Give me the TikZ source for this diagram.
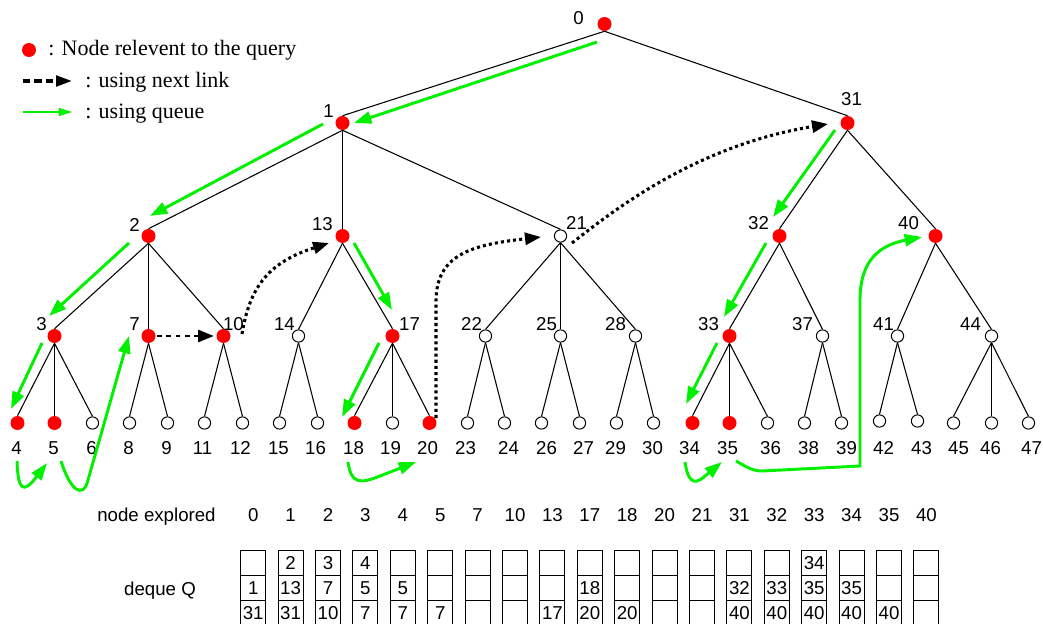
\documentclass[tikz,border=0pt]{standalone}
\usepackage{fontspec}
\setmainfont{Liberation Serif}
\newfontfamily\arialfont{Liberation Sans}
\usetikzlibrary{arrows.meta}
\definecolor{qred}{RGB}{255,0,0}
\definecolor{qgreen}{RGB}{0,240,0}

\begin{document}
\begin{tikzpicture}[x=0.75pt,y=-0.75pt,
  hit/.style={circle,fill=qred,inner sep=0pt,minimum size=10.5pt},
  miss/.style={circle,draw,fill=white,line width=0.75pt,inner sep=0pt,minimum size=9.2pt},
  num/.style={font=\arialfont\fontsize{14}{16}\selectfont,inner sep=0pt},
  legendtext/.style={font=\fontsize{16.5}{18}\selectfont,inner sep=0pt,anchor=base west},
  edge/.style={line width=0.8pt},
  queue/.style={draw=qgreen,line width=2.2pt,-{Triangle[length=13pt,width=9pt]}},
  nextlink/.style={line width=2.3pt,dash pattern=on 2.3pt off 2.3pt,-{Triangle[length=12pt,width=9pt]}},
  cell/.style={draw,line width=0.8pt,minimum width=18.75pt,minimum height=18.75pt,inner sep=0pt,
    font=\arialfont\fontsize{14}{16}\selectfont}
]
\clip (0,0) rectangle (1043,624);

% ---------- legend ----------
\node[hit] (k1) at (29,50) {};
\node[legendtext] (t1) at (48,56) {: Node relevent to the query};
\coordinate (k2a) at (23,81);
\coordinate (k2b) at (72,81);
\draw[line width=2.4pt,dash pattern=on 5.5pt off 3pt,-{Triangle[length=12pt,width=8pt]}] (k2a) -- (k2b);
\node[legendtext] (t2) at (85,87.3) {: using next link};
\coordinate (k3a) at (23,112);
\coordinate (k3b) at (72,112);
\draw[qgreen,line width=1pt,-{Triangle[length=10pt,width=6pt]}] (k3a) -- (k3b);
\node[legendtext] (t3) at (85,118.3) {: using queue};

% tree nodes sit on pixel centres so that vertical edges stay crisp
\begin{scope}[xshift=0.375pt]
% ---------- inner tree nodes ----------
\foreach \n/\x/\y/\lx/\ly/\s in {
  0/604/24/578/18/hit, 1/342/123/328/111/hit, 31/847/123/851/99/hit,
  2/148/236/134/225/hit, 13/342/236/322/224/hit, 21/560/236/576/223/miss,
  32/779/236/758/223/hit, 40/935/236/908/223/hit,
  3/54/336/41/324/hit, 7/148/336/134/324/hit, 10/223/336/233/324/hit,
  14/298/336/284/324/miss, 17/392/336/409/324/hit, 22/485/336/471/324/miss,
  25/560/336/546/324/miss, 28/635/336/615/324/miss, 33/729/336/708/324/hit,
  37/822/336/802/324/miss, 41/897/336/883/324/miss, 44/991/336/970/324/miss}
{
  \node[\s] (n\n) at (\x,\y) {};
  \node[num] (l\n) at (\lx,\ly) {\n};
}

% ---------- leaves ----------
\foreach \n/\x/\y/\lx/\s in {
  4/17/423/16/hit, 5/54/423/53/hit, 6/92/423/91/miss, 8/129/423/128/miss,
  9/167/423/166/miss, 11/204/423/202/miss, 12/242/423/240/miss,
  15/279/423/278/miss, 16/317/423/315/miss, 18/354/423/353/hit,
  19/392/423/390/miss, 20/429/423/427/hit, 23/467/423/465/miss,
  24/504/423/508/miss, 26/541/423/546/miss, 27/579/423/583/miss,
  29/616/423/615/miss, 30/653/423/652/miss, 34/692/423/689/hit,
  35/729/423/727/hit, 36/767/423/770/miss, 38/804/423/808/miss,
  39/841/423/846/miss, 42/879/421/883/miss, 43/917/421/921/miss,
  45/953/423/958/miss, 46/991/423/990/miss, 47/1028/423/1031/miss}
{
  \node[\s] (n\n) at (\x,\y) {};
  \node[num] (l\n) at (\lx,448) {\n};
}
\end{scope}

% ---------- tree edges ----------
\foreach \p/\c in {0/1,0/31,1/2,1/13,1/21,31/32,31/40,
  2/3,2/7,2/10,13/14,13/17,21/22,21/25,21/28,32/33,32/37,40/41,40/44,
  3/4,3/5,3/6,7/8,7/9,10/11,10/12,14/15,14/16,17/18,17/19,17/20,
  22/23,22/24,25/26,25/27,28/29,28/30,33/34,33/35,33/36,37/38,37/39,
  41/42,41/43,44/45,44/46,44/47}
  \draw[edge] (n\p.south) -- (n\c.north);

% ---------- traversal using the queue ----------
\coordinate (g1s) at (597,42);  \coordinate (g1e) at (354,123);
\coordinate (g2s) at (323,124); \coordinate (g2e) at (150,216);
\coordinate (g3s) at (129,243); \coordinate (g3e) at (49,316);
\coordinate (g4s) at (42,343);  \coordinate (g4e) at (11,409);
\coordinate (g7s) at (354,243); \coordinate (g7e) at (392,310);
\coordinate (g8s) at (379,343); \coordinate (g8e) at (342,417);
\coordinate (g10s) at (835,130); \coordinate (g10e) at (773,217);
\coordinate (g11s) at (766,243); \coordinate (g11e) at (724,317);
\coordinate (g12s) at (717,343); \coordinate (g12e) at (686,404);
\foreach \g in {1,2,3,4,7,8,10,11,12}
  \draw[queue] (g\g s) -- (g\g e);

\coordinate (g5s) at (17,461);  \coordinate (g5e) at (47,463);
\draw[queue] (g5s) .. controls (18,488) and (22,496) .. (g5e);
\coordinate (g6s) at (61,461);  \coordinate (g6e) at (129,336);
\draw[queue] (g6s) .. controls (70,490) and (83,500) .. (88,480) -- (g6e);
\coordinate (g9s) at (348,462); \coordinate (g9e) at (416,462);
\draw[queue] (g9s) .. controls (351,484) and (360,484) .. (380,476) -- (g9e);
\coordinate (g13s) at (685,462); \coordinate (g13e) at (722,462);
\draw[queue] (g13s) .. controls (688,482) and (694,486) .. (705,476) -- (g13e);
\coordinate (g14s) at (736,461); \coordinate (g14e) at (922,237);
\draw[queue] (g14s) .. controls (745,466) and (752,471) .. (762,471) -- (860,466)
  -- (860,300) .. controls (860,260) and (880,245) .. (g14e);

% ---------- traversal using next links ----------
\coordinate (d1s) at (157,336); \coordinate (d1e) at (214,336);
\draw[line width=2.2pt,dash pattern=on 3.6pt off 3.4pt,-{Triangle[length=12pt,width=9pt]}] (d1s) -- (d1e);
\coordinate (d2s) at (242,334); \coordinate (d2e) at (329,243);
\draw[nextlink] (d2s) .. controls (250,285) and (270,262) .. (d2e);
\coordinate (d3s) at (436,418); \coordinate (d3e) at (541,237);
\draw[nextlink] (d3s) -- (436,300) .. controls (437,255) and (470,245) .. (d3e);
\coordinate (d4s) at (572,243); \coordinate (d4e) at (828,124);
\draw[nextlink] (d4s) .. controls (620,205) and (700,145) .. (d4e);

% ---------- exploration order and deque contents ----------
\node[num,anchor=base] (hdr1) at (156.5,521.5) {node explored};
\node[num,anchor=base] (hdr2) at (160,595) {deque Q};
\foreach \e/\a/\b/\c [count=\i from 0] in {
  0/{}/1/31, 1/2/13/31, 2/3/7/10, 3/4/5/7, 4/{}/5/7, 5/{}/{}/7,
  7/{}/{}/{}, 10/{}/{}/{}, 13/{}/{}/17, 17/{}/18/20, 18/{}/{}/20,
  20/{}/{}/{}, 21/{}/{}/{}, 31/{}/32/40, 32/{}/33/40, 33/34/35/40,
  34/{}/35/40, 35/{}/{}/40, 40/{}/{}/{}}
{
  \pgfmathsetmacro{\cx}{253.2+37.4*\i}
  \node[num,anchor=base] (x\i) at (\cx,521.5) {\e};
  \node[cell] (q\i a) at (\cx,563.2) {\a};
  \node[cell] (q\i b) at (\cx,588.2) {\b};
  \node[cell] (q\i c) at (\cx,613.2) {\c};
}
\end{tikzpicture}
\end{document}
